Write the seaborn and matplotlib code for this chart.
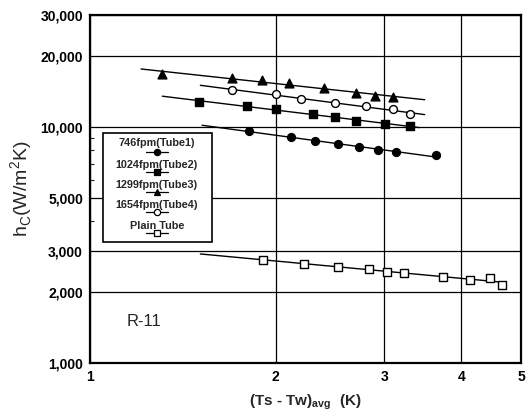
import numpy as np
import pandas as pd
import matplotlib
matplotlib.use("Agg")
import matplotlib.pyplot as plt
import seaborn as sns
from matplotlib.ticker import FixedLocator, FixedFormatter, NullFormatter

# Measured condensation heat-transfer coefficients, R-11
tube1_dt = [1.81, 2.12, 2.32, 2.52, 2.73, 2.93, 3.13, 3.64]
tube1_h = [9650, 9100, 8780, 8530, 8260, 7990, 7840, 7610]
tube1_fit = [1.52, 3.69]

tube2_dt = [1.50, 1.80, 2.00, 2.30, 2.50, 2.70, 3.01, 3.30]
tube2_h = [12860, 12330, 11940, 11400, 11070, 10680, 10310, 10140]
tube2_fit = [1.31, 3.42]

tube3_dt = [1.31, 1.70, 1.90, 2.10, 2.40, 2.70, 2.90, 3.10]
tube3_h = [16850, 16250, 15890, 15390, 14670, 14040, 13630, 13420]
tube3_fit = [1.21, 3.49]

tube4_dt = [1.70, 2.00, 2.20, 2.50, 2.80, 3.10, 3.30]
tube4_h = [14410, 13860, 13160, 12660, 12360, 11940, 11360]
tube4_fit = [1.51, 3.49]

plain_dt = [1.91, 2.22, 2.52, 2.83, 3.03, 3.23, 3.74, 4.14, 4.45, 4.65]
plain_h = [2737, 2632, 2562, 2506, 2441, 2418, 2325, 2251, 2296, 2150]
plain_fit = [1.51, 4.70]

series_names = ["746fpm(Tube1)", "1024fpm(Tube2)", "1299fpm(Tube3)",
                "1654fpm(Tube4)", "Plain Tube"]

y_ticks = [1000, 2000, 3000, 5000, 10000, 20000, 30000]
y_tick_labels = ["1,000", "2,000", "3,000", "5,000", "10,000", "20,000", "30,000"]
x_ticks = [1, 2, 3, 4, 5]
x_tick_labels = ["1", "2", "3", "4", "5"]

sns.set_style("white")
plt.rcParams["font.family"] = ["Liberation Sans", "DejaVu Sans"]
plt.rcParams["mathtext.fontset"] = "custom"
plt.rcParams["mathtext.rm"] = "Liberation Sans"

fig = plt.figure(figsize=(5.26, 4.12), dpi=100)
ax = fig.add_axes([0.1711, 0.1189, 0.8194, 0.8447])

frames = []
for name, dt, h in zip(series_names,
                       [tube1_dt, tube2_dt, tube3_dt, tube4_dt, plain_dt],
                       [tube1_h, tube2_h, tube3_h, tube4_h, plain_h]):
    frames.append(pd.DataFrame({"dt": dt, "h": h, "series": name}))
df = pd.concat(frames, ignore_index=True)

styles = {
    "746fpm(Tube1)": dict(marker="o", facecolor="black"),
    "1024fpm(Tube2)": dict(marker="s", facecolor="black"),
    "1299fpm(Tube3)": dict(marker="^", facecolor="black"),
    "1654fpm(Tube4)": dict(marker="o", facecolor="white"),
    "Plain Tube": dict(marker="s", facecolor="white"),
}
fit_ranges = dict(zip(series_names,
                      [tube1_fit, tube2_fit, tube3_fit, tube4_fit, plain_fit]))

ax.set_xscale("log")
ax.set_yscale("log")

for name in series_names:
    sub = df[df["series"] == name]
    # power-law fit drawn over its range
    k, c = np.polyfit(np.log10(sub["dt"]), np.log10(sub["h"]), 1)
    xr = np.array(fit_ranges[name])
    ax.plot(xr, 10 ** (c + k * np.log10(xr)), color="black", lw=1.0, zorder=2)
    st = styles[name]
    sns.scatterplot(data=sub, x="dt", y="h", ax=ax, marker=st["marker"],
                    color=st["facecolor"], edgecolor="black", linewidth=1.0,
                    s=32 if st["marker"] != "^" else 40, zorder=3, legend=False)

ax.set_xlim(1, 5)
ax.set_ylim(1000, 30000)

ax.xaxis.set_major_locator(FixedLocator(x_ticks))
ax.xaxis.set_major_formatter(FixedFormatter(x_tick_labels))
ax.xaxis.set_minor_locator(FixedLocator([]))
ax.xaxis.set_minor_formatter(NullFormatter())
ax.yaxis.set_major_locator(FixedLocator(y_ticks))
ax.yaxis.set_major_formatter(FixedFormatter(y_tick_labels))
ax.yaxis.set_minor_locator(FixedLocator([4000, 6000, 7000, 8000, 9000]))
ax.yaxis.set_minor_formatter(NullFormatter())

ax.tick_params(axis="both", which="major", length=0, pad=5, labelsize=10,
               labelcolor="black")
ax.tick_params(axis="y", which="minor", direction="in", length=3, width=0.8,
               left=True)
for lbl in ax.get_xticklabels() + ax.get_yticklabels():
    lbl.set_fontweight("bold")

ax.grid(True, which="major", color="black", lw=0.9)
for sp in ax.spines.values():
    sp.set_color("black")
    sp.set_linewidth(1.6)

ax.set_xlabel(r"(Ts - Tw)$_\mathregular{avg}$  (K)", fontsize=11,
              fontweight="bold", labelpad=6)
ax.set_ylabel(r"h$_\mathregular{C}$(W/m$^\mathregular{2}$K)", fontsize=14,
              labelpad=4)

ax.text(0.085, 0.12, "R-11", transform=ax.transAxes, fontsize=12,
        ha="left", va="center")

# boxed key: label above a short line with its marker
key_box = plt.Rectangle((0.030, 0.348), 0.253, 0.313, transform=ax.transAxes,
                        facecolor="white", edgecolor="black", lw=1.2, zorder=5)
ax.add_patch(key_box)
cx = 0.155
text_y = [0.633, 0.570, 0.512, 0.454, 0.395]
mark_y = [0.606, 0.548, 0.490, 0.433, 0.374]
for name, ty, my in zip(series_names, text_y, mark_y):
    st = styles[name]
    ax.text(cx, ty, name, transform=ax.transAxes, fontsize=7.8,
            fontweight="bold", ha="center", va="center", zorder=6)
    ax.plot([cx - 0.026, cx + 0.026], [my, my], transform=ax.transAxes,
            color="black", lw=0.9, zorder=6)
    ax.plot([cx], [my], transform=ax.transAxes, marker=st["marker"],
            markersize=4.5, markerfacecolor=st["facecolor"],
            markeredgecolor="black", markeredgewidth=0.9, zorder=7)

fig.savefig("out.png", dpi=100)
